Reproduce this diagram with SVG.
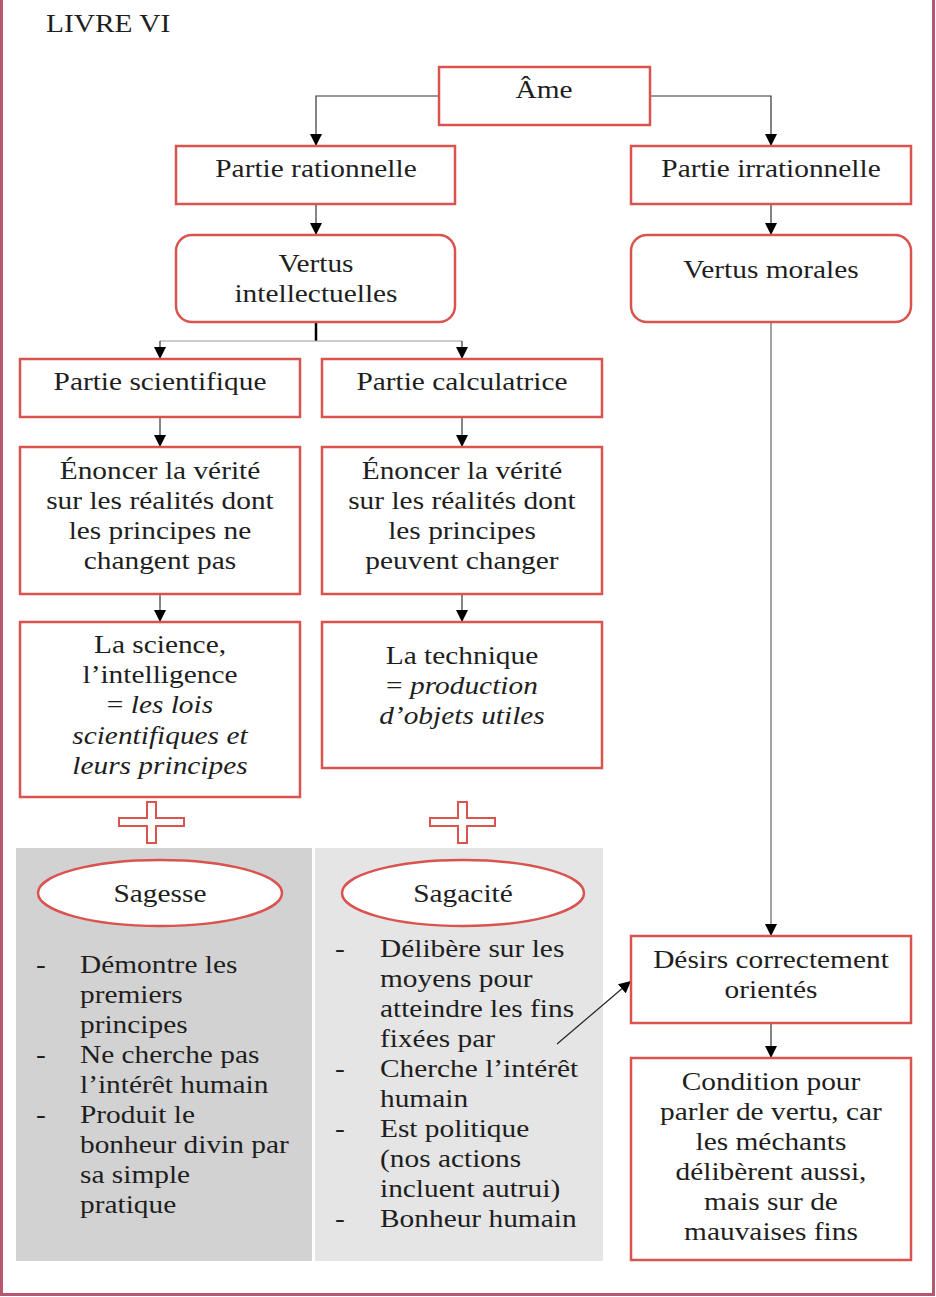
<svg xmlns="http://www.w3.org/2000/svg" width="936" height="1297" viewBox="0 0 936 1297">
<style>
  text { font-family: "Liberation Serif", "Times New Roman", serif; font-size: 26px; fill: #1e1e1e; }
  .c { text-anchor: middle; transform-box: fill-box; transform-origin: center; transform: scaleX(1.13); }
  .l { text-anchor: start; transform-box: fill-box; transform-origin: left center; transform: scaleX(1.13); }
  .it { font-style: italic; }
  .box { fill: #ffffff; stroke: #d9534f; stroke-width: 2.5; }
  .ell { fill: #ffffff; stroke: #d9534f; stroke-width: 2.5; }
  .plus { fill: #ffffff; stroke: #d9534f; stroke-width: 2; }
  .ln { fill: none; stroke: #333; stroke-width: 1.2; }
  .arr { fill: none; stroke: #333; stroke-width: 1.2; marker-end: url(#ah); }
</style>
<defs>
  <marker id="ah" markerUnits="userSpaceOnUse" markerWidth="12" markerHeight="12" refX="12" refY="6" orient="auto">
    <path d="M0,0 L12,6 L0,12 Z" fill="#000"/>
  </marker>
</defs>
<rect x="0" y="0" width="936" height="1297" fill="#ffffff"/>
<path d="M1.5,0 V1294.5 H933.5 V0" fill="none" stroke="#b8566f" stroke-width="3"/>

<text id="title" class="l" x="46" y="32">LIVRE VI</text>

<!-- gray panels -->
<rect x="16" y="848" width="296" height="413" fill="#d2d2d2"/>
<rect x="315" y="848" width="288" height="413" fill="#e5e5e5"/>

<g id="connectors">
  <path class="arr" d="M439,96 H316 V146"/>
  <path class="arr" d="M650,96 H771 V146"/>
  <path class="arr" d="M316,204 V235"/>
  <path class="arr" d="M771,204 V235"/>
  <path d="M316,322 V341" stroke="#000" stroke-width="2.5" fill="none"/>
  <path d="M160,341 H462" stroke="#999" stroke-width="1.2" fill="none"/>
  <path class="arr" d="M160,341 V359"/>
  <path class="arr" d="M462,341 V359"/>
  <path class="arr" d="M160,417 V447"/>
  <path class="arr" d="M462,417 V447"/>
  <path class="arr" d="M160,594 V622"/>
  <path class="arr" d="M462,594 V622"/>
  <path class="arr" d="M771,322 V936" style="stroke:#666"/>
  <path class="arr" d="M771,1023 V1058"/>
  <path class="arr" d="M557,1044 L631,981" style="stroke:#222"/>
</g>

<g id="ame">
  <rect class="box" x="439" y="67" width="211" height="58"/>
  <text class="c" x="544" y="98">Âme</text>
</g>
<g id="partie-rationnelle">
  <rect class="box" x="176" y="146" width="279" height="58"/>
  <text class="c" x="316" y="177">Partie rationnelle</text>
</g>
<g id="partie-irrationnelle">
  <rect class="box" x="631" y="146" width="280" height="58"/>
  <text class="c" x="771" y="177">Partie irrationnelle</text>
</g>
<g id="vertus-intellectuelles">
  <rect class="box" x="176" y="235" width="279" height="87" rx="16"/>
  <text class="c" x="316" y="272">Vertus</text>
  <text class="c" x="316" y="302">intellectuelles</text>
</g>
<g id="vertus-morales">
  <rect class="box" x="631" y="235" width="280" height="87" rx="16"/>
  <text class="c" x="771" y="278">Vertus morales</text>
</g>
<g id="partie-scientifique">
  <rect class="box" x="20" y="359" width="280" height="58"/>
  <text class="c" x="160" y="390">Partie scientifique</text>
</g>
<g id="partie-calculatrice">
  <rect class="box" x="322" y="359" width="280" height="58"/>
  <text class="c" x="462" y="390">Partie calculatrice</text>
</g>
<g id="enoncer-1">
  <rect class="box" x="20" y="447" width="280" height="147"/>
  <text class="c" x="160" y="479">Énoncer la vérité</text>
  <text class="c" x="160" y="509">sur les réalités dont</text>
  <text class="c" x="160" y="539">les principes ne</text>
  <text class="c" x="160" y="569">changent pas</text>
</g>
<g id="enoncer-2">
  <rect class="box" x="322" y="447" width="280" height="147"/>
  <text class="c" x="462" y="479">Énoncer la vérité</text>
  <text class="c" x="462" y="509">sur les réalités dont</text>
  <text class="c" x="462" y="539">les principes</text>
  <text class="c" x="462" y="569">peuvent changer</text>
</g>
<g id="science">
  <rect class="box" x="20" y="622" width="280" height="175"/>
  <text class="c" x="160" y="653">La science,</text>
  <text class="c" x="160" y="683">l’intelligence</text>
  <text class="c" x="160" y="713">= <tspan class="it">les lois</tspan></text>
  <text class="c it" x="160" y="744">scientifiques et</text>
  <text class="c it" x="160" y="774">leurs principes</text>
</g>
<g id="technique">
  <rect class="box" x="322" y="622" width="280" height="146"/>
  <text class="c" x="462" y="664">La technique</text>
  <text class="c" x="462" y="694">= <tspan class="it">production</tspan></text>
  <text class="c it" x="462" y="724">d’objets utiles</text>
</g>
<g id="plus-1">
  <path class="plus" d="M147,802 H156 V818 H184 V826 H156 V843 H147 V826 H119 V818 H147 Z"/>
</g>
<g id="plus-2">
  <path class="plus" d="M458,802 H467 V818 H495 V826 H467 V843 H458 V826 H430 V818 H458 Z"/>
</g>
<g id="sagesse">
  <ellipse class="ell" cx="160" cy="893" rx="122" ry="33"/>
  <text class="c" x="160" y="902">Sagesse</text>
</g>
<g id="sagacite">
  <ellipse class="ell" cx="463" cy="893" rx="121" ry="33"/>
  <text class="c" x="463" y="902">Sagacité</text>
</g>
<g id="sagesse-list">
  <text class="l" x="36" y="973">-</text>
  <text class="l" x="80" y="973">Démontre les</text>
  <text class="l" x="80" y="1003">premiers</text>
  <text class="l" x="80" y="1033">principes</text>
  <text class="l" x="36" y="1063">-</text>
  <text class="l" x="80" y="1063">Ne cherche pas</text>
  <text class="l" x="80" y="1093">l’intérêt humain</text>
  <text class="l" x="36" y="1123">-</text>
  <text class="l" x="80" y="1123">Produit le</text>
  <text class="l" x="80" y="1153">bonheur divin par</text>
  <text class="l" x="80" y="1183">sa simple</text>
  <text class="l" x="80" y="1213">pratique</text>
</g>
<g id="sagacite-list">
  <text class="l" x="335" y="957">-</text>
  <text class="l" x="380" y="957">Délibère sur les</text>
  <text class="l" x="380" y="987">moyens pour</text>
  <text class="l" x="380" y="1017">atteindre les fins</text>
  <text class="l" x="380" y="1047">fixées par</text>
  <text class="l" x="335" y="1077">-</text>
  <text class="l" x="380" y="1077">Cherche l’intérêt</text>
  <text class="l" x="380" y="1107">humain</text>
  <text class="l" x="335" y="1137">-</text>
  <text class="l" x="380" y="1137">Est politique</text>
  <text class="l" x="380" y="1167">(nos actions</text>
  <text class="l" x="380" y="1197">incluent autrui)</text>
  <text class="l" x="335" y="1227">-</text>
  <text class="l" x="380" y="1227">Bonheur humain</text>
</g>
<g id="desirs">
  <rect class="box" x="631" y="936" width="280" height="87"/>
  <text class="c" x="771" y="968">Désirs correctement</text>
  <text class="c" x="771" y="998">orientés</text>
</g>
<g id="condition">
  <rect class="box" x="631" y="1058" width="280" height="202"/>
  <text class="c" x="771" y="1090">Condition pour</text>
  <text class="c" x="771" y="1120">parler de vertu, car</text>
  <text class="c" x="771" y="1150">les méchants</text>
  <text class="c" x="771" y="1180">délibèrent aussi,</text>
  <text class="c" x="771" y="1210">mais sur de</text>
  <text class="c" x="771" y="1240">mauvaises fins</text>
</g>
</svg>
